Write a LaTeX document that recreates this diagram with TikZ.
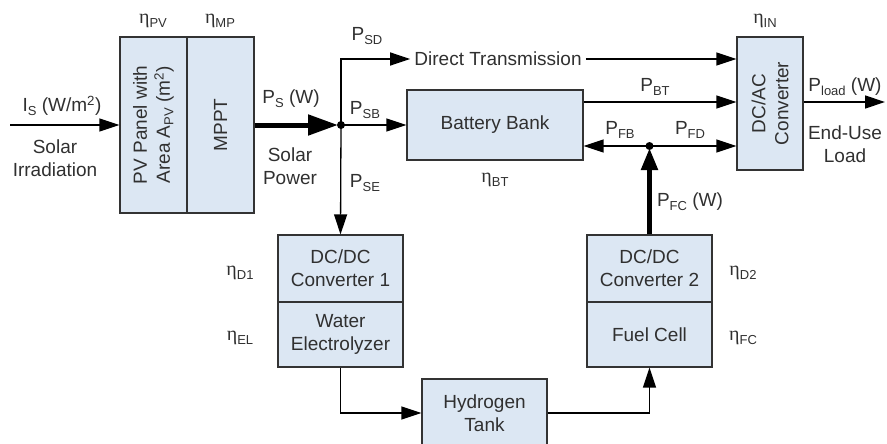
\documentclass[tikz,border=0pt]{standalone}
\usepackage{fontspec}
\setmainfont{Liberation Sans}
\newfontfamily\etafont{Liberation Serif}
\usetikzlibrary{arrows.meta}
\definecolor{boxfill}{HTML}{DCE7F3}
\definecolor{txt}{HTML}{303030}
\newcommand\sbx[1]{\raisebox{-0.35ex}{\fontsize{13}{13}\selectfont #1}}
\newcommand\etaa{{\etafont\fontsize{20}{23}\selectfont η}}
\begin{document}
\begin{tikzpicture}[x=1pt,y=-1pt,
  font=\fontsize{19}{23}\selectfont, text=txt,
  blk/.style={draw=black!80, line width=1.2pt, fill=boxfill, inner sep=0pt},
  arr/.style={line width=1.3pt, -{Triangle[length=20pt,width=13pt]}},
  thk/.style={line width=5pt, -{Triangle[length=30pt,width=20pt]}},
  thk2/.style={line width=5pt, -{Triangle[length=22pt,width=16pt]}},
  lbl/.style={inner sep=1pt}]
\useasboundingbox (0,0) rectangle (887,444);
% boxes
\node[blk, minimum width=67pt, minimum height=176pt] (pv) at (153.5,125) {};
\node[blk, minimum width=67pt, minimum height=176pt] (mppt) at (220.5,125) {};
\node[rotate=90, align=center] (pvt) at (pv.center) {PV Panel with\\Area A\sbx{PV} (m\textsuperscript{2})};
\node[rotate=90] (mpptt) at (mppt.center) {MPPT};
\node[blk, minimum width=176pt, minimum height=70pt] (bat) at (495,125) {Battery Bank};
\node[blk, minimum width=66pt, minimum height=133pt] (dcac) at (770,103.5) {};
\node[rotate=90, align=center] (dcact) at (dcac.center) {DC/AC\\Converter};
\node[blk, minimum width=125pt, minimum height=67pt, align=center] (dc1) at (340.5,268.5) {DC/DC\\Converter 1};
\node[blk, minimum width=125pt, minimum height=65pt, align=center] (el) at (340.5,334.5) {Water\\Electrolyzer};
\node[blk, minimum width=125pt, minimum height=67pt, align=center] (dc2) at (649.5,268.5) {DC/DC\\Converter 2};
\node[blk, minimum width=125pt, minimum height=65pt, align=center] (fc) at (649.5,334.5) {Fuel Cell};
\node[blk, minimum width=125pt, minimum height=68pt, align=center] (tank) at (484.5,413) {Hydrogen\\Tank};
\node[inner sep=4pt] (dt) at (498,59) {Direct Transmission};
% coordinates
\coordinate (src) at (10,125);
\coordinate (j1) at (341,125);
\coordinate (j2) at (649.5,146);
\coordinate (load) at (885,102);
% connectors
\draw[arr] (src) -- (pv.west);
\draw[thk, shorten >=3pt] (mppt.east) -- (j1);
\draw[arr] (j1) -- (dc1.north);
\draw[arr] (j1) |- (dt.west);
\draw[arr] (dt.east) -- (dt.east -| dcac.west);
\draw[arr] (j1) -- (bat.west);
\draw[arr] ([yshift=23pt]bat.east) coordinate (b1) -- (b1 -| dcac.west);
\draw[thk2, shorten >=2pt] (dc2.north) -- (j2);
\draw[arr] (j2) -- (j2 -| bat.east);
\draw[arr] (j2) -- (j2 -| dcac.west);
\draw[arr] ([yshift=1.5pt]dcac.east) -- (load);
\draw[arr] (el.south) |- (tank.west);
\draw[arr] (tank.east) -| (fc.south);
\fill (j1) circle (4pt);
\fill (j2) circle (4pt);
% labels
\node[lbl] at (62,106) {I\sbx{S} (W/m\textsuperscript{2})};
\node[lbl, align=center] at (55,158) {Solar\\Irradiation};
\node[lbl] at (291,99) {P\sbx{S} (W)};
\node[lbl, align=center] at (290,166) {Solar\\Power};
\node[lbl] at (367,36) {P\sbx{SD}};
\node[lbl] at (365,110) {P\sbx{SB}};
\node[lbl] at (365,183) {P\sbx{SE}};
\node[lbl] at (495,180) {\etaa\sbx{BT}};
\node[lbl] at (655,87) {P\sbx{BT}};
\node[lbl] at (620,130) {P\sbx{FB}};
\node[lbl] at (690,130) {P\sbx{FD}};
\node[lbl] at (690,202) {P\sbx{FC} (W)};
\node[lbl] at (845,87) {P\sbx{load} (W)};
\node[lbl, align=center] at (845,144) {End-Use\\Load};
\node[lbl] at (153,21) {\etaa\sbx{PV}};
\node[lbl] at (220,21) {\etaa\sbx{MP}};
\node[lbl] at (765,21) {\etaa\sbx{IN}};
\node[lbl] at (240,273) {\etaa\sbx{D1}};
\node[lbl] at (240,338) {\etaa\sbx{EL}};
\node[lbl] at (743,273) {\etaa\sbx{D2}};
\node[lbl] at (743,338) {\etaa\sbx{FC}};
\end{tikzpicture}
\end{document}
